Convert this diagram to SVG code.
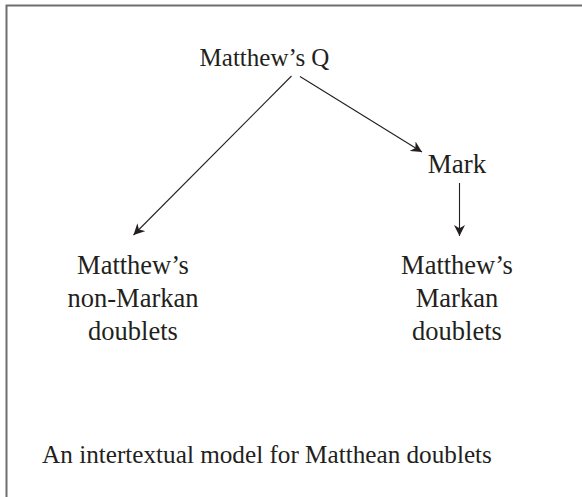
<svg xmlns="http://www.w3.org/2000/svg" width="582" height="497" viewBox="0 0 582 497">
<defs>
<style>
text{font-family:"Liberation Serif","DejaVu Serif",serif;font-size:26.5px;fill:#231f20;text-anchor:middle}
.top{font-size:25px}
.mark{font-size:27px}
.cap{font-size:25.2px}
.edge{stroke:#231f20;stroke-width:1.1;fill:none}
</style>
<marker id="arr" viewBox="0 0 10 10" refX="10" refY="5" markerWidth="11" markerHeight="11" markerUnits="userSpaceOnUse" orient="auto">
<path d="M0,0 L10,5 L0,10 L3,5 Z" fill="#231f20"/>
</marker>
</defs>
<rect width="582" height="497" fill="#fff"/>
<path d="M6.5,497 V5.5 H582" stroke="#6d6e70" stroke-width="2" fill="none"/>
<g id="connectors">
<line class="edge" x1="291.5" y1="76" x2="133.5" y2="235" marker-end="url(#arr)"/>
<line class="edge" x1="300" y1="76.5" x2="422" y2="152" marker-end="url(#arr)"/>
<line class="edge" x1="459.5" y1="183" x2="459.5" y2="236" marker-end="url(#arr)"/>
</g>
<g id="node-q"><text class="top" x="264.5" y="66">Matthew’s Q</text></g>
<g id="node-mark"><text class="mark" x="457" y="173">Mark</text></g>
<g id="node-nonmarkan"><text x="133" y="274">Matthew’s</text><text x="133" y="307">non-Markan</text><text x="133" y="340">doublets</text></g>
<g id="node-markan"><text x="457" y="274">Matthew’s</text><text x="457" y="307">Markan</text><text x="457" y="340">doublets</text></g>
<g id="caption"><text class="cap" x="267" y="463">An intertextual model for Matthean doublets</text></g>
</svg>
